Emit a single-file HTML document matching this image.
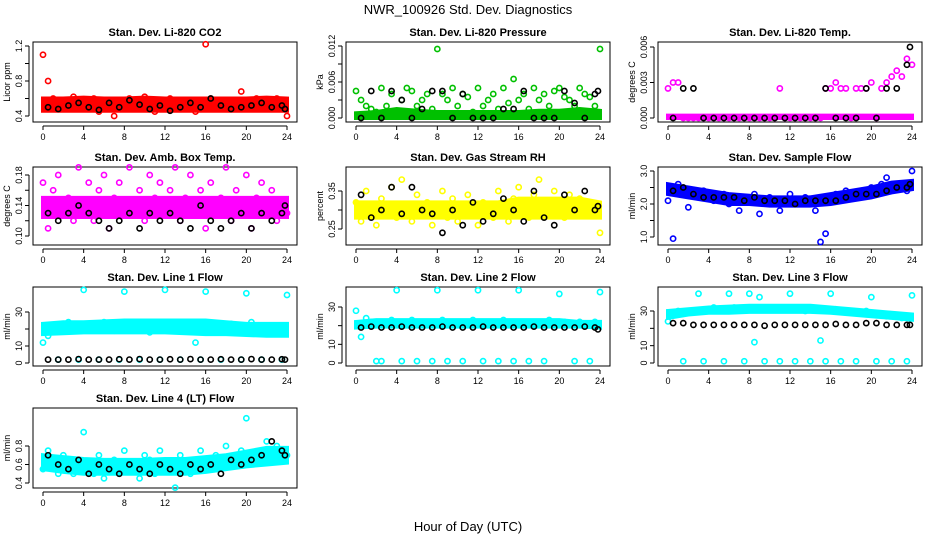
<!DOCTYPE html>
<html><head><meta charset="utf-8"><style>
body{margin:0;background:#fff}
svg{display:block;font-family:"Liberation Sans",Arial,sans-serif}
</style></head><body>
<svg id="chart" width="936" height="540" viewBox="0 0 936 540">
<text x="468" y="14" font-size="13" text-anchor="middle">NWR_100926  Std. Dev. Diagnostics</text>
<text x="468" y="531" font-size="13" text-anchor="middle">Hour of Day (UTC)</text>
</svg>
<script>
const hours=[0,0.5,1,1.5,2,2.5,3,3.5,4,4.5,5,5.5,6,6.5,7,7.5,8,8.5,9,9.5,10,10.5,11,11.5,12,12.5,13,13.5,14,14.5,15,15.5,16,16.5,17,17.5,18,18.5,19,19.5,20,20.5,21,21.5,22,22.5,23,23.5,24];
const blackHours=[0.5,1.5,2.5,3.5,4.5,5.5,6.5,7.5,8.5,9.5,10.5,11.5,12.5,13.5,14.5,15.5,16.5,17.5,18.5,19.5,20.5,21.5,22.5,23.5,23.8];
const bandHours=[0,2,4,6,8,10,12,14,16,18,20,22,24];
const xTicks=[0,4,8,12,16,20,24];

const titles=["Stan. Dev. Li-820 CO2","Stan. Dev. Li-820 Pressure","Stan. Dev. Li-820 Temp.","Stan. Dev. Amb. Box Temp.","Stan. Dev. Gas Stream RH","Stan. Dev. Sample Flow","Stan. Dev. Line 1 Flow","Stan. Dev. Line 2 Flow","Stan. Dev. Line 3 Flow","Stan. Dev. Line 4 (LT) Flow"];
const yTitles=["Licor ppm","kPa","degrees C","degrees C","percent","ml/min","ml/min","ml/min","ml/min","ml/min"];
const colors=["#ff0000","#00c000","#ff00ff","#ff00ff","#ffff00","#0000ff","#00ffff","#00ffff","#00ffff","#00ffff"];

const co2Ticks=[0.4,0.6,0.8,1.0,1.2], co2TickLabels=["0.4","","0.8","","1.2"];
const co2Vals=[1.1,0.8,0.6,0.55,0.5,0.58,0.62,0.48,0.55,0.5,0.6,0.45,0.52,0.58,0.4,0.55,0.5,0.6,0.48,0.55,0.62,0.5,0.45,0.58,0.52,0.6,0.48,0.55,0.5,0.58,0.45,0.53,1.22,0.6,0.5,0.55,0.48,0.58,0.52,0.68,0.5,0.55,0.6,0.48,0.52,0.58,0.6,0.5,0.4];
const co2Black=[0.5,0.48,0.52,0.55,0.5,0.47,0.55,0.5,0.58,0.53,0.48,0.52,0.46,0.5,0.55,0.5,0.6,0.52,0.48,0.5,0.52,0.55,0.5,0.52,0.48];
const co2Lo=[0.46,0.46,0.46,0.46,0.46,0.46,0.46,0.46,0.46,0.46,0.46,0.46,0.46];
const co2Hi=[0.6,0.6,0.61,0.6,0.6,0.61,0.6,0.6,0.6,0.6,0.6,0.61,0.6];

const presTicks=[0,0.003,0.006,0.009,0.012], presTickLabels=["0.000","","0.006","","0.012"];
const presVals=[0.0045,0.003,0.002,0.0015,0.001,0.005,0.002,0.004,0.001,0.003,0.005,0.0045,0.002,0.003,0.004,0.0015,0.0115,0.004,0.003,0.005,0.002,0.004,0.0035,0.001,0.005,0.002,0.003,0.004,0.0015,0.005,0.0025,0.0065,0.003,0.004,0.0015,0.005,0.003,0.004,0.002,0.0045,0.005,0.0035,0.003,0.002,0.005,0.004,0.0035,0.002,0.0115];
const presBlack=[0,0.0045,0,0.0045,0.003,0,0.0015,0.0045,0.0045,0,0.004,0,0,0,0.0015,0.0015,0.0045,0,0,0,0.0045,0.0025,0,0.004,0.0045];
const presLo=[0,0,0,0,0,0,0,0,0,0,0,0,0];
const presHi=[0.0008,0.001,0.0015,0.0012,0.001,0.001,0.001,0.001,0.001,0.0012,0.0012,0.0015,0.0012];

const tempTicks=[0,0.003,0.006], tempTickLabels=["0.000","0.003","0.006"];
const tempVals=[0.0025,0.003,0.003,0,0,0,0,0,0,0,0,0,0,0,0,0,0,0,0,0,0,0,0.0025,0,0,0,0,0,0,0,0,0.0025,0.0025,0.003,0.0025,0.0025,0,0.0025,0.0025,0.0025,0.003,0,0.0025,0.003,0.0035,0.004,0.0035,0.005,0.0045];
const tempBlack=[0,0.0025,0.0025,0,0,0,0,0,0,0,0,0,0,0,0,0.0025,0,0,0,0.0025,0,0.0025,0.0025,0.0045,0.006];
const tempLo=[0,0,0,0,0,0,0,0,0,0,0,0,0];
const tempHi=[0.0002,0.0002,0.0002,0.0002,0.0002,0.0002,0.0002,0.0002,0.0002,0.0002,0.0002,0.0002,0.0002];

const ambTicks=[0.10,0.12,0.14,0.16,0.18], ambTickLabels=["0.10","","0.14","","0.18"];
const ambVals=[0.17,0.11,0.16,0.18,0.13,0.15,0.12,0.19,0.14,0.17,0.12,0.16,0.18,0.11,0.15,0.17,0.13,0.19,0.14,0.16,0.12,0.18,0.15,0.17,0.13,0.16,0.19,0.12,0.15,0.18,0.14,0.16,0.11,0.17,0.13,0.15,0.19,0.12,0.16,0.14,0.18,0.11,0.15,0.17,0.13,0.16,0.12,0.14,0.13];
const ambBlack=[0.13,0.12,0.13,0.14,0.13,0.12,0.11,0.12,0.13,0.11,0.13,0.12,0.13,0.12,0.11,0.14,0.12,0.11,0.12,0.13,0.11,0.13,0.12,0.13,0.14];
const ambLo=[0.125,0.125,0.125,0.125,0.125,0.125,0.125,0.125,0.125,0.125,0.125,0.125,0.125];
const ambHi=[0.15,0.15,0.15,0.15,0.15,0.15,0.15,0.15,0.15,0.15,0.15,0.15,0.15];

const rhTicks=[0.25,0.30,0.35], rhTickLabels=["0.25","","0.35"];
const rhVals=[0.32,0.27,0.35,0.3,0.26,0.33,0.29,0.36,0.28,0.38,0.31,0.27,0.34,0.29,0.32,0.26,0.3,0.35,0.28,0.33,0.27,0.31,0.34,0.29,0.26,0.32,0.3,0.28,0.35,0.31,0.27,0.33,0.36,0.3,0.28,0.34,0.38,0.31,0.29,0.35,0.32,0.28,0.34,0.3,0.33,0.29,0.32,0.3,0.24];
const rhBlack=[0.34,0.28,0.3,0.36,0.29,0.36,0.3,0.29,0.24,0.3,0.26,0.32,0.27,0.29,0.33,0.3,0.27,0.35,0.28,0.26,0.34,0.3,0.35,0.3,0.31];
const rhLo=[0.28,0.28,0.28,0.28,0.28,0.28,0.28,0.28,0.28,0.28,0.28,0.28,0.28];
const rhHi=[0.32,0.32,0.32,0.32,0.32,0.32,0.32,0.32,0.33,0.33,0.33,0.33,0.32];

const sfTicks=[1.0,1.5,2.0,2.5,3.0], sfTickLabels=["1.0","","2.0","","3.0"];
const sfVals=[2.1,0.95,2.6,2.5,1.9,2.3,2.2,2.4,2.3,2.1,2.2,2.3,2.0,2.2,1.8,2.1,2.2,2.3,1.7,2.1,2.2,2.0,1.8,2.1,2.3,2.1,2.0,2.2,2.1,1.8,0.85,1.1,2.2,2.3,2.2,2.4,2.3,2.2,2.4,2.3,2.5,2.4,2.6,2.8,2.5,2.6,2.5,2.4,3.0];
const sfBlack=[2.4,2.5,2.3,2.2,2.2,2.2,2.2,2.1,2.2,2.1,2.1,2.1,2.0,2.1,2.1,2.1,2.1,2.2,2.3,2.3,2.3,2.4,2.5,2.5,2.6];
const sfLo=[2.3,2.2,2.1,2.0,2.0,1.95,1.95,1.95,2.0,2.1,2.2,2.35,2.45];
const sfHi=[2.6,2.5,2.4,2.3,2.25,2.2,2.2,2.2,2.3,2.4,2.5,2.65,2.7];

const l1Ticks=[0,10,20,30], l1TickLabels=["0","10","","30"];
const l1Vals=[12,16,20,2,21,24,23,2,43,22,21,2,24,22,19,2,42,21,20,2,22,18,23,2,43,22,20,2,24,21,12,2,42,22,20,2,19,23,22,2,41,24,20,2,19,21,20,2,40];
const l1Black=[2,2,2,2.3,2,2,2,2.2,2,2.3,2,2,2.2,2,2.3,2,2,2.2,2,2,2.3,2,2,2.2,2];
const l1Lo=[17,17.5,18,18,18,18,18,17.5,17,17,16.5,16,16];
const l1Hi=[23,24,24,24.5,25,25,25,25,25,24,23,23,23];

const l2Ticks=[0,10,20,30], l2TickLabels=["0","10","","30"];
const l2Vals=[28,14,24,22,1,1,22,23,39,1,22,23,1,21,22,1,39,23,1,22,21,1,22,23,39,1,22,21,1,23,22,1,39,22,1,21,22,1,23,22,37,22,21,1,22,21,1,22,38];
const l2Black=[19,19.5,19,19,19.5,19,19,19,19.5,19,19,19,19.5,19,19,19,19,19.5,19,19,19,19,19.5,19,18];
const l2Lo=[19,19.5,19.5,19.5,19.5,19.5,19.5,19.5,19.5,19.5,19.5,19.5,19];
const l2Hi=[22,23,23,23,23,23,23,23,23,23,23,22,22];

const l3Ticks=[0,10,20,30], l3TickLabels=["0","10","","30"];
const l3Vals=[24,28,30,1,29,30,40,1,31,32,31,1,40,32,31,1,40,12,38,1,31,32,1,31,40,1,31,30,1,31,13,1,40,31,1,30,29,1,29,30,38,1,28,27,1,27,26,1,39];
const l3Black=[23,23,22,22,22,22,22,22,22,21.5,22,22,22,22,22,22,22.5,22,22,23,23,22,22,22,22];
const l3Lo=[26,28,29,29,29.5,29.5,29.5,29.5,29,28,27,26,25];
const l3Hi=[30,31,32,32.5,33,33,33,33,32,31,30,29,28];

const l4Ticks=[0.4,0.6,0.8], l4TickLabels=["0.4","0.6","0.8"];
const l4Vals=[0.55,0.75,0.6,0.5,0.7,0.65,0.5,0.55,0.95,0.6,0.5,0.7,0.45,0.6,0.65,0.5,0.75,0.55,0.6,0.45,0.7,0.65,0.5,0.75,0.6,0.55,0.35,0.7,0.6,0.5,0.65,0.75,0.6,0.55,0.7,0.65,0.8,0.6,0.7,0.75,1.1,0.65,0.7,0.75,0.85,0.7,0.8,0.75,0.7];
const l4Black=[0.7,0.6,0.55,0.65,0.5,0.6,0.55,0.5,0.6,0.55,0.5,0.6,0.55,0.5,0.6,0.55,0.6,0.5,0.65,0.6,0.65,0.7,0.85,0.75,0.7];
const l4Lo=[0.55,0.52,0.5,0.5,0.5,0.5,0.5,0.5,0.52,0.55,0.58,0.6,0.62];
const l4Hi=[0.7,0.68,0.66,0.65,0.65,0.65,0.66,0.66,0.68,0.7,0.74,0.78,0.78];

// [tickA, pixelA, tickB, pixelB] anchors (layout, not data)
const layout=[
 {ox:0,top:42,bot:122,a:[0.4,116,1.2,46]},
 {ox:313,top:42,bot:122,a:[0,118,0.012,46]},
 {ox:625,top:42,bot:122,a:[0,118,0.006,47]},
 {ox:0,top:167,bot:245,a:[0.10,236,0.18,175]},
 {ox:313,top:167,bot:245,a:[0.25,229,0.35,191]},
 {ox:625,top:167,bot:245,a:[1.0,237,3.0,171]},
 {ox:0,top:287,bot:366,a:[0,363,30,312]},
 {ox:313,top:287,bot:366,a:[0,363,30,307]},
 {ox:625,top:287,bot:366,a:[0,363,30,311]},
 {ox:0,top:408,bot:488,a:[0.4,483,0.8,446]}
];
const panelData=[
 [co2Vals,co2Black,co2Lo,co2Hi,co2Ticks,co2TickLabels],
 [presVals,presBlack,presLo,presHi,presTicks,presTickLabels],
 [tempVals,tempBlack,tempLo,tempHi,tempTicks,tempTickLabels],
 [ambVals,ambBlack,ambLo,ambHi,ambTicks,ambTickLabels],
 [rhVals,rhBlack,rhLo,rhHi,rhTicks,rhTickLabels],
 [sfVals,sfBlack,sfLo,sfHi,sfTicks,sfTickLabels],
 [l1Vals,l1Black,l1Lo,l1Hi,l1Ticks,l1TickLabels],
 [l2Vals,l2Black,l2Lo,l2Hi,l2Ticks,l2TickLabels],
 [l3Vals,l3Black,l3Lo,l3Hi,l3Ticks,l3TickLabels],
 [l4Vals,l4Black,l4Lo,l4Hi,l4Ticks,l4TickLabels]
];
const NS="http://www.w3.org/2000/svg";
const svg=document.getElementById('chart');
function mk(tag,attrs,parent){const e=document.createElementNS(NS,tag);for(const k in attrs)e.setAttribute(k,attrs[k]);(parent||svg).appendChild(e);return e;}
layout.forEach((L,i)=>{
 const [vals,blk,lo,hi,ticks,tlabels]=panelData[i];
 const g=mk('g',{});
 
 
 const xS=h=>L.ox+43+h*(244/24);
 const yS=v=>L.a[1]+(v-L.a[0])*(L.a[3]-L.a[1])/(L.a[2]-L.a[0]);
 const cx=L.ox+165;
 const t=mk('text',{x:cx,y:L.top-6,'font-size':11,'font-weight':'bold','text-anchor':'middle'},g);t.textContent=titles[i];
 
 
 const box=mk('rect',{x:L.ox+33,y:L.top,width:264,height:L.bot-L.top,fill:'none',stroke:'#000','stroke-width':1},g);
 
 
 const clip='clip'+i;
 const cp=mk('clipPath',{id:clip},g);mk('rect',{x:L.ox+33,y:L.top,width:264,height:L.bot-L.top},cp);
 let pts=bandHours.map((h,k)=>xS(h)+','+yS(hi[k]));
 pts=pts.concat(bandHours.slice().reverse().map((h,k)=>xS(h)+','+yS(lo[lo.length-1-k])));
 const band=mk('polygon',{points:pts.join(' '),fill:colors[i],stroke:colors[i],'stroke-width':4,'clip-path':'url(#'+clip+')'},g);
 
 
 vals.forEach((v,k)=>{const c=mk('circle',{cx:xS(hours[k]),cy:yS(v),r:2.6,fill:'none',stroke:colors[i],'stroke-width':1.6},g);
  
  });
 blk.forEach((v,k)=>{const c=mk('circle',{cx:xS(blackHours[k]),cy:yS(v),r:2.6,fill:'none',stroke:'#000','stroke-width':1.6},g);
  
  });
 const xa=mk('g',{},g);
 
 
 mk('line',{x1:xS(0),x2:xS(24),y1:L.bot+4,y2:L.bot+4,stroke:'#000'},xa);
 xTicks.forEach(h=>{mk('line',{x1:xS(h),x2:xS(h),y1:L.bot+4,y2:L.bot+8,stroke:'#000'},xa);
  const tt=mk('text',{x:xS(h),y:L.bot+18,'font-size':9,'text-anchor':'middle'},xa);tt.textContent=h;});
 const ya=mk('g',{},g);
 
 
 const x0=L.ox+29;
 mk('line',{x1:x0,x2:x0,y1:yS(ticks[0]),y2:yS(ticks[ticks.length-1]),stroke:'#000'},ya);
 ticks.forEach((v,k)=>{mk('line',{x1:x0-4,x2:x0,y1:yS(v),y2:yS(v),stroke:'#000'},ya);
  const tt=mk('text',{x:x0-7,y:yS(v),'font-size':9,'text-anchor':'middle',transform:`rotate(-90 ${x0-7} ${yS(v)})`},ya);tt.textContent=tlabels[k];});
 const ym=(L.top+L.bot)/2;
 const yt=mk('text',{x:L.ox+10,y:ym,'font-size':9,'text-anchor':'middle',transform:`rotate(-90 ${L.ox+10} ${ym})`},g);yt.textContent=yTitles[i];
 
 
});
</script>
</body></html>
